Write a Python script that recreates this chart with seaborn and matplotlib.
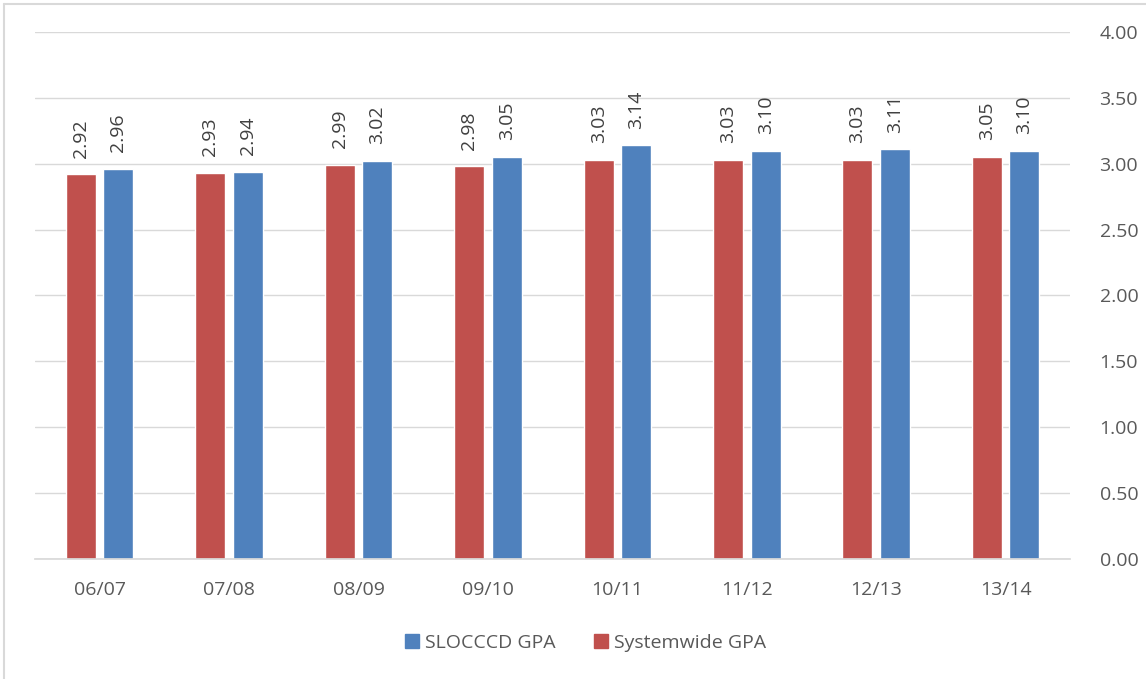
import numpy as np
import pandas as pd
import seaborn as sns
import matplotlib.pyplot as plt
from matplotlib.lines import Line2D
from matplotlib.patches import Patch

years = ['06/07', '07/08', '08/09', '09/10', '10/11', '11/12', '12/13', '13/14']
systemwide_gpa = [2.92, 2.93, 2.99, 2.98, 3.03, 3.03, 3.03, 3.05]
sloccd_gpa = [2.96, 2.94, 3.02, 3.05, 3.14, 3.10, 3.11, 3.10]
series_names = ['Systemwide GPA', 'SLOCCCD GPA']
y_ticks = [0.0, 0.5, 1.0, 1.5, 2.0, 2.5, 3.0, 3.5, 4.0]

red = '#C0504D'
blue = '#4F81BD'
text_grey = '#595959'
grid_grey = '#D9D9D9'

df = pd.DataFrame({
    'year': years * 2,
    'gpa': systemwide_gpa + sloccd_gpa,
    'series': [series_names[0]] * len(years) + [series_names[1]] * len(years),
})

sns.set_theme(style='white')
plt.rcParams['font.family'] = ['Open Sans', 'DejaVu Sans']

fig = plt.figure(figsize=(11.46, 6.79), dpi=100)
ax = fig.add_axes([0.0305, 0.1767, 0.9035, 0.7763])

sns.barplot(data=df, x='year', y='gpa', hue='series', hue_order=series_names,
            palette=[red, blue], width=0.58, gap=0.2, ax=ax, legend=False,
            saturation=1)

for container in ax.containers:
    ax.bar_label(container, fmt='%.2f', rotation=90, padding=12,
                 fontsize=14, color='#404040')

ax.set_ylim(0, 4)
ax.set_xlim(-0.5, len(years) - 0.5)
ax.set_yticks(y_ticks)
ax.set_yticklabels([f'{t:.2f}' for t in y_ticks])
ax.yaxis.tick_right()
ax.yaxis.grid(True, color=grid_grey, linewidth=1)
ax.set_axisbelow(True)
ax.tick_params(axis='y', length=0, pad=21, labelsize=14, labelcolor=text_grey)
ax.tick_params(axis='x', length=0, pad=16, labelsize=14, labelcolor=text_grey)
ax.set_xlabel('')
ax.set_ylabel('')
for side in ['top', 'left', 'right']:
    ax.spines[side].set_visible(False)
ax.spines['bottom'].set_color(grid_grey)

handles = [Patch(color=blue), Patch(color=red)]
fig.legend(handles, ['SLOCCCD GPA', 'Systemwide GPA'], loc='center',
           bbox_to_anchor=(0.511, 0.053), ncol=2, frameon=False,
           fontsize=14, labelcolor=text_grey, handlelength=0.7,
           handleheight=0.7, handletextpad=0.3, columnspacing=2.0)

# outer chart frame, cropped at right and bottom
fig.add_artist(Line2D([4 / 1146, 4 / 1146], [0, 1 - 4 / 679], color='#D9D9D9', linewidth=1.5))
fig.add_artist(Line2D([4 / 1146, 1], [1 - 4 / 679, 1 - 4 / 679], color='#D9D9D9', linewidth=1.5))

fig.savefig('out.png', dpi=100)
